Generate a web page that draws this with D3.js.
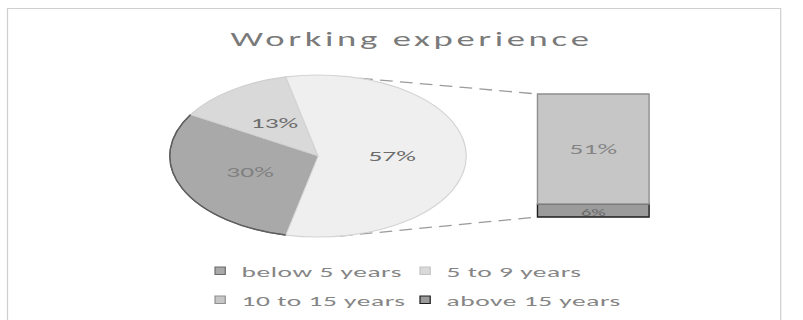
<!DOCTYPE html>
<html>
<head>
<meta charset="utf-8">
<script src="https://cdn.jsdelivr.net/npm/d3@7"></script>
<style>
  body { margin: 0; background: #fff; }
  text { font-family: Carlito, Lato, "Open Sans", sans-serif; }
</style>
</head>
<body>
<div id="chart"></div>
<script>
// data
var title = "Working experience";
var pieCategories = ["below 5 years", "5 to 9 years"];
var pieValues = [30, 13];
var barCategories = ["10 to 15 years", "above 15 years"];
var barValues = [51, 6];
var legendLabels = ["below 5 years", "5 to 9 years", "10 to 15 years", "above 15 years"];

var fills = {"below 5 years": "#a9a9a9", "5 to 9 years": "#d9d9d9", "10 to 15 years": "#c6c6c6", "above 15 years": "#9b9b9b", "other": "#efefef"};
var strokes = {"below 5 years": "#6b6b6b", "5 to 9 years": "#cfcfcf", "10 to 15 years": "#8f8f8f", "above 15 years": "#1e1e1e", "other": "#d4d4d4"};

var W = 803, H = 320;
// the picture is stretched sideways, so everything is drawn in a narrow frame and scaled in x
var sx = 1.83;

var svg = d3.select('#chart').append('svg')
  .attr('width', W).attr('height', H);
var g = svg.append('g').attr('transform', 'scale(' + sx + ',1)');

// chart area frame
g.append('rect')
  .attr('x', 4.1).attr('y', 8.5)
  .attr('width', 422.5).attr('height', 330)
  .attr('fill', 'none').attr('stroke', '#cfcfcf').attr('stroke-width', 1.2)
  .attr('vector-effect', 'non-scaling-stroke');

g.append('text')
  .attr('x', 224.9).attr('y', 46.5)
  .attr('text-anchor', 'middle')
  .style('font-size', '20px')
  .style('letter-spacing', '2px')
  .attr('fill', '#7a7a7a')
  .text(title);

// pie + bar
var cx = 173.8, cy = 156, r = 81;
var otherTotal = d3.sum(barValues);
var pieData = pieCategories.map(function(c, i){ return {name: c, value: pieValues[i]}; });
pieData.push({name: 'other', value: otherTotal});
var grand = d3.sum(pieData, function(d){ return d.value; });
var start = Math.PI / 2 + Math.PI * otherTotal / grand;

var pie = d3.pie().sort(null).value(function(d){ return d.value; })
  .startAngle(start).endAngle(start + 2 * Math.PI);
var arc = d3.arc().innerRadius(0).outerRadius(r);
var arcs = pie(pieData);

// bar scale
var barX0 = 293.7, barW = 61;
var y = d3.scaleLinear().domain([0, otherTotal]).range([217, 94]);

// connector lines drawn first so the pie sits on top
var topA = 16.5 * Math.PI / 180, botA = 171.5 * Math.PI / 180;
var conn = [
  [[cx + r * Math.sin(topA), cy - r * Math.cos(topA)], [barX0, y(otherTotal)]],
  [[cx + r * Math.sin(botA), cy - r * Math.cos(botA)], [barX0, y(0)]]
];
g.selectAll('line.conn').data(conn).enter().append('line')
  .attr('class', 'conn')
  .attr('x1', function(d){ return d[0][0]; }).attr('y1', function(d){ return d[0][1]; })
  .attr('x2', function(d){ return d[1][0]; }).attr('y2', function(d){ return d[1][1]; })
  .attr('stroke', '#9c9c9c').attr('stroke-width', 1.3)
  .attr('stroke-dasharray', '7,4');

var gPie = g.append('g').attr('transform', 'translate(' + cx + ',' + cy + ')');
gPie.selectAll('path').data(arcs).enter().append('path')
  .attr('d', arc)
  .attr('fill', function(d){ return fills[d.data.name]; })
  .attr('stroke', function(d){ return strokes[d.data.name]; })
  .attr('stroke-width', 1.2)
  .attr('vector-effect', 'non-scaling-stroke');
// dark edge only on the outer rim of the 30% slice
gPie.selectAll('path.rim').data(arcs.filter(function(d){ return d.data.name == 'below 5 years'; }))
  .enter().append('path')
  .attr('class', 'rim')
  .attr('d', d3.arc().innerRadius(r).outerRadius(r))
  .attr('fill', 'none').attr('stroke', '#5e5e5e').attr('stroke-width', 1.4)
  .attr('vector-effect', 'non-scaling-stroke');
gPie.selectAll('text').data(arcs).enter().append('text')
  .attr('transform', function(d){ var c = arc.centroid(d); return 'translate(' + c[0] + ',' + (c[1] + 5) + ')'; })
  .attr('text-anchor', 'middle')
  .style('font-size', '15px')
  .attr('fill', function(d){ return d.data.name == 'below 5 years' ? '#808080' : '#6c6c6c'; })
  .text(function(d){ return Math.round(d.data.value / grand * 100) + '%'; });

// stacked bar: last category at the bottom
var barData = [];
var acc = 0;
for (var i = barValues.length - 1; i >= 0; i--) {
  barData.push({name: barCategories[i], value: barValues[i], y0: acc, y1: acc + barValues[i]});
  acc += barValues[i];
}
var gBar = g.append('g');
gBar.selectAll('rect').data(barData).enter().append('rect')
  .attr('x', barX0).attr('width', barW)
  .attr('y', function(d){ return y(d.y1); })
  .attr('height', function(d){ return y(d.y0) - y(d.y1); })
  .attr('fill', function(d){ return fills[d.name]; })
  .attr('stroke', function(d){ return strokes[d.name]; })
  .attr('stroke-width', 1.4)
  .attr('vector-effect', 'non-scaling-stroke');
gBar.selectAll('text').data(barData).enter().append('text')
  .attr('x', barX0 + barW / 2)
  .attr('y', function(d){ return (y(d.y0) + y(d.y1)) / 2 + 5; })
  .attr('text-anchor', 'middle')
  .style('font-size', function(d){ return d.value < 10 ? '11px' : '15px'; })
  .attr('fill', function(d){ return d.value < 10 ? '#6a6a6a' : '#858585'; })
  .text(function(d){ return Math.round(d.value / grand * 100) + '%'; });

// legend, two rows of two
var legX = [117.5, 229.5], legY = [276.5, 305.5];
var leg = g.selectAll('g.leg').data(legendLabels).enter().append('g')
  .attr('class', 'leg')
  .attr('transform', function(d, i){ return 'translate(' + legX[i % 2] + ',' + legY[Math.floor(i / 2)] + ')'; });
leg.append('rect')
  .attr('x', 0).attr('y', -9.5).attr('width', 5.6).attr('height', 7.5)
  .attr('fill', function(d){ return fills[d]; })
  .attr('stroke', function(d){ return strokes[d] == '#cfcfcf' ? '#c4c4c4' : strokes[d]; })
  .attr('stroke-width', 1.2)
  .attr('vector-effect', 'non-scaling-stroke');
leg.append('text')
  .attr('x', 14.5).attr('y', 0)
  .style('font-size', '15px')
  .style('letter-spacing', '0.3px')
  .attr('fill', '#858585')
  .text(function(d){ return d; });
</script>
</body>
</html>
